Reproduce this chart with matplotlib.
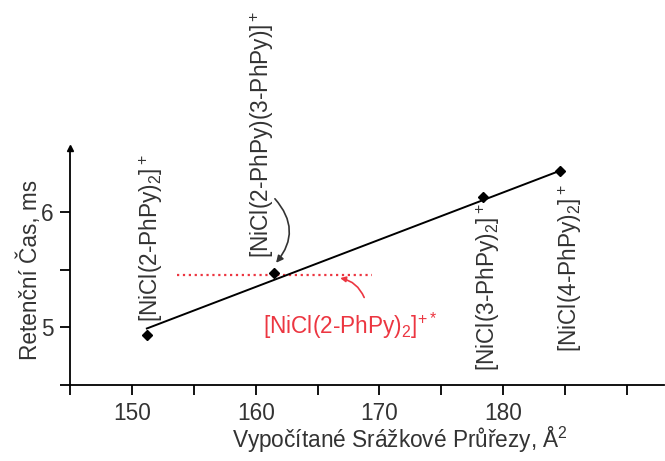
import matplotlib
matplotlib.use('Agg')
import matplotlib.pyplot as plt

plt.rcParams['font.family'] = ['Liberation Sans', 'DejaVu Sans']
plt.rcParams['mathtext.fontset'] = 'custom'
plt.rcParams['mathtext.rm'] = 'Liberation Sans'
plt.rcParams['mathtext.it'] = 'Liberation Sans'

# data
ccs = [151.2, 161.5, 178.4, 184.6]          # calculated cross sections, A^2
t_ret = [4.93, 5.47, 6.13, 6.355]           # retention time, ms
ion_labels = [r'[NiCl(2-PhPy)$_2$]$^+$',
              r'[NiCl(2-PhPy)(3-PhPy)]$^+$',
              r'[NiCl(3-PhPy)$_2$]$^+$',
              r'[NiCl(4-PhPy)$_2$]$^+$']
fit_x = [151.2, 184.6]
fit_y = [4.99, 6.355]
radical_x = [153.6, 169.4]
radical_y = [5.45, 5.45]
radical_label = r'[NiCl(2-PhPy)$_2$]$^{+*}$'

xticks = [145, 150, 155, 160, 165, 170, 175, 180, 185, 190]
xticklabels = ['', '150', '', '160', '', '170', '', '180', '', '']
yticks = [4.5, 5.0, 5.5, 6.0]
yticklabels = ['', '5', '', '6']

grey = '#333333'
red = '#ec3641'
fs = 16.3

fig = plt.figure(figsize=(6.65, 4.61), dpi=100)
ax = fig.add_axes([0.1055, 0.1646, 0.893, 0.514])

ax.plot(fit_x, fit_y, color='k', lw=1.4, zorder=2)
ax.plot(ccs, t_ret, 'D', color='k', ms=5.5, zorder=3)
ax.plot(radical_x, radical_y, ':', color=red, lw=1.6, zorder=1)

# compound labels (rotated)
ax.text(151.5, 5.05, ion_labels[0], rotation=90, ha='center', va='bottom', fontsize=fs, color=grey)
ax.text(160.5, 5.60, ion_labels[1], rotation=90, ha='center', va='bottom', fontsize=fs, color=grey)
ax.text(178.8, 6.075, ion_labels[2], rotation=90, ha='center', va='top', fontsize=fs, color=grey)
ax.text(185.4, 6.24, ion_labels[3], rotation=90, ha='center', va='top', fontsize=fs, color=grey)
ax.text(160.6, 5.01, radical_label, ha='left', va='center', fontsize=fs, color=red)

# curved arrows
ax.annotate('', xy=(ccs[1], 5.54), xytext=(161.4, 6.13),
            arrowprops=dict(arrowstyle='-|>', color='#333333', lw=1.2,
                            connectionstyle='arc3,rad=-0.45', mutation_scale=10))
ax.annotate('', xy=(166.6, 5.43), xytext=(168.85, 5.236),
            arrowprops=dict(arrowstyle='-|>', color=red, lw=1.2,
                            connectionstyle='arc3,rad=0.3', mutation_scale=8))

ax.set_xlim(145, 193)
ax.set_ylim(4.5, 6.55)
ax.set_xticks(xticks)
ax.set_xticklabels(xticklabels)
ax.set_yticks(yticks)
ax.set_yticklabels(yticklabels)
ax.tick_params(direction='out', length=7, width=1.3, labelsize=fs, colors='k', pad=5)
for lab in ax.get_xticklabels() + ax.get_yticklabels():
    lab.set_color(grey)

for s in ['top', 'right']:
    ax.spines[s].set_visible(False)
for s in ['left', 'bottom']:
    ax.spines[s].set_linewidth(1.3)
ax.plot([0], [1], marker='^', ms=4, color='k', transform=ax.transAxes, clip_on=False)

fig.text(400 / 665, 1 - 440 / 461, r'Vypočítané Srážkové Průřezy, Å$^2$',
         ha='center', va='center', fontsize=fs, color=grey)
fig.text(30 / 665, 1 - 270 / 461, 'Retenční Čas, ms', rotation=90,
         ha='center', va='center', fontsize=fs, color=grey)

fig.savefig('out.png', dpi=100)
